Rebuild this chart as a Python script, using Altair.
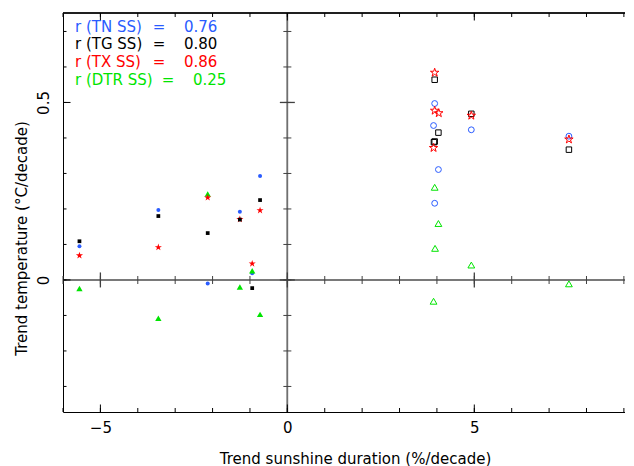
import altair as alt
import pandas as pd

# ---------------- data ----------------
# negative sunshine trend stations (filled symbols)
neg_x = [-5.56, -3.45, -2.13, -1.27, -0.94, -0.73]
tn_neg = [0.095, 0.197, -0.010, 0.192, 0.019, 0.293]
tg_neg = [0.109, 0.180, 0.132, 0.170, -0.023, 0.225]
tx_neg = [0.069, 0.092, 0.232, 0.171, 0.046, 0.196]
dtr_neg = [-0.024, -0.108, 0.242, -0.020, 0.026, -0.097]

# positive sunshine trend stations (open symbols)
tn_pos_x = [3.94, 3.91, 4.04, 3.94, 4.92, 7.53]
tn_pos = [0.497, 0.435, 0.311, 0.216, 0.423, 0.405]
tg_pos_x = [3.94, 4.04, 3.92, 3.94, 4.92, 7.53]
tg_pos = [0.564, 0.415, 0.388, 0.390, 0.468, 0.367]
tx_pos_x = [3.94, 3.94, 4.05, 3.91, 4.92, 7.53]
tx_pos = [0.584, 0.477, 0.470, 0.372, 0.463, 0.396]
dtr_pos_x = [3.94, 4.04, 3.95, 3.91, 4.92, 7.53]
dtr_pos = [0.261, 0.159, 0.089, -0.060, 0.042, -0.011]

legend_labels = ["r (TN SS)", "r (TG SS)", "r (TX SS)", "r (DTR SS)"]
legend_values = ["0.76", "0.80", "0.86", "0.25"]

x_ticks = list(range(-6, 10))
x_major = [-5, 0, 5]
y_ticks = [-0.3, -0.2, -0.1, 0.0, 0.1, 0.2, 0.3, 0.4, 0.5, 0.6, 0.7]
y_major = [0.0, 0.5]

BLUE = "#2a5cff"
BLACK = "#000000"
RED = "#ff0000"
GREEN = "#00e400"
GREY = "#707070"
FONT = "DejaVu Sans"

STAR = ("M0,-1 L0.2245,-0.309 L0.951,-0.309 L0.363,0.118 L0.588,0.809 "
        "L0,0.382 L-0.588,0.809 L-0.363,0.118 L-0.951,-0.309 L-0.2245,-0.309 Z")

W = 562
H = 399
XDOM = [-6, 9.03]
YDOM = [-0.372, 0.752]

xs = alt.Scale(domain=XDOM, nice=False, zero=False)
ys = alt.Scale(domain=YDOM, nice=False, zero=False)


def pts(xv, yv, color, shape, size, filled):
    df = pd.DataFrame({"x": xv, "y": yv})
    if filled:
        m = alt.Chart(df).mark_point(filled=True, shape=shape, size=size,
                                     color=color, opacity=1, strokeWidth=0)
    else:
        m = alt.Chart(df).mark_point(filled=False, shape=shape, size=size,
                                     color=color, opacity=1, strokeWidth=1)
    return m.encode(x=alt.X("x:Q", scale=xs), y=alt.Y("y:Q", scale=ys))


# base layer with the real axes (labels, domain lines, titles)
base = alt.Chart(pd.DataFrame({"x": neg_x, "y": tn_neg})).mark_point(opacity=0).encode(
    x=alt.X("x:Q", scale=xs, title="Trend sunshine duration (%/decade)",
            axis=alt.Axis(values=x_major, format="~g", ticks=False, tickSize=0,
                          grid=False, domainColor=BLACK, domainWidth=1,
                          labelFont=FONT, labelFontSize=15, labelColor=BLACK,
                          labelPadding=8, labelFlush=False, titleFont=FONT,
                          titleFontSize=15, titleFontWeight="normal",
                          titleColor=BLACK, titleX=292, titleY=46,
                          titleBaseline="middle", titleAnchor="middle")),
    y=alt.Y("y:Q", scale=ys, title="Trend temperature (°C/decade)",
            axis=alt.Axis(values=y_major, format="~g", ticks=False, tickSize=0,
                          grid=False, domainColor=BLACK, domainWidth=1,
                          labelFont=FONT, labelFontSize=15, labelColor=BLACK,
                          labelAngle=270, labelAlign="center",
                          labelBaseline="alphabetic", labelPadding=15,
                          labelFlush=False, titleFont=FONT, titleFontSize=15,
                          titleFontWeight="normal", titleColor=BLACK,
                          titleX=-42, titleY=225, titleBaseline="middle",
                          titleAngle=270)),
)

xt = pd.DataFrame({"t": x_ticks})
xm = pd.DataFrame({"t": x_major})
yt = pd.DataFrame({"t": y_ticks})
ym = pd.DataFrame({"t": y_major})

# frame: top line
top_line = alt.Chart(xm).mark_rule(color=BLACK, strokeWidth=1).encode(
    x=alt.value(0), x2=alt.value(W), y=alt.value(0))

# inward ticks on the frame
bot_minor = alt.Chart(xt).mark_rule(color=BLACK, strokeWidth=1).encode(
    x=alt.X("t:Q", scale=xs), y=alt.value(H), y2=alt.value(H - 4))
bot_major = alt.Chart(xm).mark_rule(color=BLACK, strokeWidth=1).encode(
    x=alt.X("t:Q", scale=xs), y=alt.value(H), y2=alt.value(H - 7.5))
top_minor = alt.Chart(xt).mark_rule(color=BLACK, strokeWidth=1).encode(
    x=alt.X("t:Q", scale=xs), y=alt.value(0), y2=alt.value(4))
top_major = alt.Chart(xm).mark_rule(color=BLACK, strokeWidth=1).encode(
    x=alt.X("t:Q", scale=xs), y=alt.value(0), y2=alt.value(7.5))
left_minor = alt.Chart(yt).mark_rule(color=BLACK, strokeWidth=1).encode(
    y=alt.Y("t:Q", scale=ys), x=alt.value(0), x2=alt.value(3.5))
left_major = alt.Chart(ym).mark_rule(color=BLACK, strokeWidth=1).encode(
    y=alt.Y("t:Q", scale=ys), x=alt.value(0), x2=alt.value(7.5))

# interior zero axes
hzero = alt.Chart(ym).mark_rule(color=GREY, strokeWidth=1.5).encode(
    x=alt.value(0), x2=alt.value(W), y=alt.datum(0, scale=ys))
vzero = alt.Chart(ym).mark_rule(color=GREY, strokeWidth=1.5).encode(
    x=alt.datum(0, scale=xs), y=alt.value(0), y2=alt.value(H))
hz_minor = alt.Chart(xt).mark_tick(orient="vertical", color="#404040",
                                   thickness=1, size=8, opacity=1).encode(
    x=alt.X("t:Q", scale=xs), y=alt.datum(0, scale=ys))
hz_major = alt.Chart(xm).mark_tick(orient="vertical", color="#404040",
                                   thickness=1.3, size=15, opacity=1).encode(
    x=alt.X("t:Q", scale=xs), y=alt.datum(0, scale=ys))
vz_minor = alt.Chart(yt).mark_tick(orient="horizontal", color="#404040",
                                   thickness=1, size=8, opacity=1).encode(
    y=alt.Y("t:Q", scale=ys), x=alt.datum(0, scale=xs))
vz_major = alt.Chart(ym).mark_tick(orient="horizontal", color="#404040",
                                   thickness=1.3, size=15, opacity=1).encode(
    y=alt.Y("t:Q", scale=ys), x=alt.datum(0, scale=xs))

# symbols
layers_pts = [
    pts(neg_x, tn_neg, BLUE, "circle", 16, True),
    pts(neg_x, dtr_neg, GREEN, "triangle-up", 40, True),
    pts(neg_x, tx_neg, RED, STAR, 56, True),
    pts(neg_x, tg_neg, BLACK, "square", 14, True),
    pts(tn_pos_x, tn_pos, BLUE, "circle", 34, False),
    pts(dtr_pos_x, dtr_pos, GREEN, "triangle-up", 46, False),
    pts(tg_pos_x, tg_pos, BLACK, "square", 30, False),
    pts(tx_pos_x, tx_pos, RED, STAR, 78, False),
]

# correlation annotations
leg_colors = [BLUE, BLACK, RED, GREEN]
row_y = [13.5, 31, 48.5, 66.5]
eq_x = [96, 96, 96, 105]
val_x = [121, 121, 121, 130]
texts = []
for lab, val, col, yy, ex, vx in zip(legend_labels, legend_values, leg_colors,
                                     row_y, eq_x, val_x):
    tdf = pd.DataFrame({"lab": [lab], "val": [val], "eq": ["="]})
    common = dict(font=FONT, fontSize=15, color=col, baseline="middle")
    texts.append(alt.Chart(tdf).mark_text(align="left", **common).encode(
        text="lab:N", x=alt.value(12), y=alt.value(yy)))
    texts.append(alt.Chart(tdf).mark_text(align="center", **common).encode(
        text="eq:N", x=alt.value(ex), y=alt.value(yy)))
    texts.append(alt.Chart(tdf).mark_text(align="left", **common).encode(
        text="val:N", x=alt.value(vx), y=alt.value(yy)))

chart = alt.layer(
    base, hzero, vzero, hz_minor, hz_major, vz_minor, vz_major,
    top_line, bot_minor, bot_major, top_minor, top_major, left_minor, left_major,
    *layers_pts, *texts
).properties(
    width=W, height=H,
    autosize=alt.AutoSizeParams(type="none"),
    padding={"left": 55, "top": 5, "right": 0, "bottom": 58},
    background="white",
).configure_view(stroke=None)

chart.save("out.html", embed_options={"renderer": "svg", "actions": False})
